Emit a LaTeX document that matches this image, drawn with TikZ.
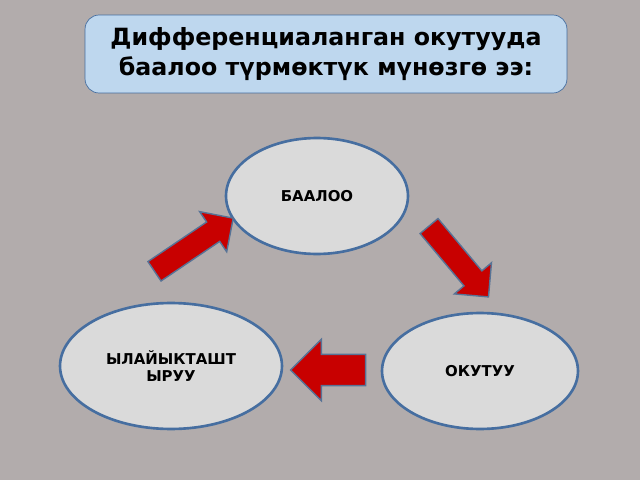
\documentclass[tikz,border=0pt]{standalone}
\usepackage{fontspec}
\setmainfont{DejaVu Sans}
\usetikzlibrary{shapes.geometric, shapes.arrows, positioning}
\definecolor{bggray}{RGB}{178,172,172}
\definecolor{titleblue}{RGB}{190,215,238}
\definecolor{edgeblue}{RGB}{70,110,160}
\definecolor{ovalgray}{RGB}{218,218,218}
\definecolor{arrowred}{RGB}{200,0,0}
\tikzset{
    oval/.style={ellipse,draw=edgeblue,line width=1.5pt,fill=ovalgray,font=\fontsize{8.5}{10}\selectfont\bfseries,align=center,inner sep=0pt},
    blockarrow/.style={single arrow,draw=edgeblue!70!gray,fill=arrowred,line width=0.8pt,inner sep=0.22cm,single arrow head extend=0.25cm}
}
\begin{document}
\begin{tikzpicture}[x=0.02cm,y=-0.02cm]
    \fill[bggray] (0,0) rectangle (640,480);
    \useasboundingbox (0,0) rectangle (640,480);
    % title
    \node[rectangle,draw=edgeblue,fill=titleblue,rounded corners=8pt,minimum width=9.64cm,minimum height=1.56cm,align=center,font=\fontsize{13.5}{17}\selectfont\bfseries] (title) at (326,54) {Дифференциаланган окутууда\\баалоо түрмөктүк мүнөзгө ээ:};
    % ovals
    \node[oval,minimum width=3.64cm,minimum height=2.32cm] (baaloo) at (317,196) {БААЛОО};
    \node[oval,minimum width=4.44cm,minimum height=2.52cm] (ylaiyk) at (171,366) {ЫЛАЙЫКТАШТ\\ЫРУУ};
    \node[oval,minimum width=3.92cm,minimum height=2.32cm] (okutuu) at (480,371) {ОКУТУУ};
    % arrows
    \node[blockarrow,minimum height=1.9cm,rotate=34] (arrowup) at (189,248) {};
    \node[blockarrow,minimum height=1.85cm,rotate=-50] (arrowdown) at (455,257) {};
    \node[blockarrow,minimum height=1.5cm,inner sep=0.3cm,single arrow head extend=0.3cm,rotate=180] (arrowleft) at (336,370) {};
\end{tikzpicture}
\end{document}
